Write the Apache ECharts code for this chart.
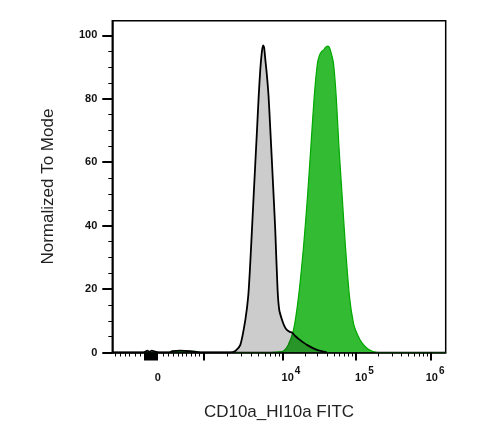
<!DOCTYPE html>
<html>
<head>
<meta charset="utf-8">
<script src="https://cdn.jsdelivr.net/npm/echarts@6/dist/echarts.min.js"></script>
<style>
	html, body { margin: 0; padding: 0; background: #fff; }
	#chart { width: 485px; height: 442px; }
</style>
</head>
<body>
<div id="chart"></div>
<script>
// x values are display positions on the biexponential axis (1 unit ~ 1 decade)
var grayX = [1.8, 2.2, 2.237, 2.26, 2.29, 2.32, 2.36, 2.434, 2.55, 2.59, 2.697, 2.83, 2.96, 3.355, 3.421, 3.487, 3.553, 3.592, 3.618, 3.662, 3.707, 3.73, 3.75, 3.77, 3.786, 3.8, 3.816, 3.836, 3.859, 3.882, 3.904, 3.928, 3.947, 3.978, 4.0, 4.036, 4.066, 4.1, 4.138, 4.167, 4.21, 4.276, 4.364, 4.496, 4.628];
var grayY = [0, 0, 0.3, 0.6, 0.2, 0.6, 0.3, 0, 0, 0.4, 0.6, 0.4, 0, 0, 0.5, 2.4, 10.3, 18, 28.3, 49.2, 70.3, 81.3, 89.2, 94.6, 96.8, 96.2, 92.4, 87.7, 80.8, 70.3, 59.8, 48.2, 38.7, 19.7, 13.4, 10.3, 8.4, 7.1, 6.5, 6.3, 5.2, 3.9, 2.4, 0.8, 0];

var greenX = [1.8, 2.55, 2.59, 2.7, 2.895, 2.96, 3.88, 3.974, 4.057, 4.118, 4.188, 4.254, 4.32, 4.372, 4.417, 4.461, 4.504, 4.533, 4.562, 4.586, 4.605, 4.636, 4.658, 4.671, 4.693, 4.714, 4.75, 4.786, 4.829, 4.872, 4.925, 4.978, 5.02, 5.066, 5.118, 5.175, 5.237, 5.307, 6.193];
var greenY = [0, 0, 0.4, 0.4, 0.4, 0, 0, 0.15, 0.5, 2.4, 7.1, 17.6, 33.4, 49.2, 65, 80.8, 91.3, 93.9, 95, 95.4, 96.1, 96.6, 96.3, 95.5, 93.6, 91.3, 80.8, 65, 49.2, 33.4, 17.6, 9.2, 6.2, 3.9, 2.2, 1, 0.3, 0, 0];

// axis ticks and labels
var xLabelPos = [2.4, 4.042, 5.011, 6.0];
var xLabels = ['0', '10^4', '10^5', '10^6'];
var xMajorTicks = [2.231, 2.257, 2.284, 2.31, 2.336, 2.363, 2.389, 3.0, 4.042, 5.011, 6.0];
var xMinorTicks = [1.836, 1.901, 1.967, 2.02, 2.099, 2.165, 2.468, 2.534, 2.6, 2.666, 2.718, 2.771, 2.837, 2.89, 2.942,
	3.31, 3.494, 3.626, 3.727, 3.811, 3.88, 3.941, 3.995,
	4.339, 4.497, 4.629, 4.721, 4.787, 4.853, 4.906, 4.958,
	5.309, 5.483, 5.606, 5.701, 5.78, 5.846, 5.903, 5.954];
var yLabels = [0, 20, 40, 60, 80, 100];
var yMinorTicks = [5, 10, 15, 25, 30, 35, 45, 50, 55, 65, 70, 75, 85, 90, 95];

function pairs(xs, ys) {
	return xs.map(function(x, i) { return [x, ys[i]]; });
}

function renderChart(ele) {
	var dom = document.getElementById(ele);
	var myChart = echarts.init(dom, null, { renderer: 'canvas' });
	var font = '"Liberation Sans", Arial, sans-serif';

	var option = {
		animation: false,
		backgroundColor: '#fff',
		textStyle: { fontFamily: font },
		grid: {
			left: 112.3,
			right: 39.3,
			top: 20.7,
			bottom: 89.5,
			show: true,
			borderColor: '#000',
			borderWidth: 1.5,
			backgroundColor: 'transparent'
		},
		xAxis: [{
			type: 'value',
			min: 1.8,
			max: 6.193,
			z: 5,
			name: 'CD10a_HI10a FITC',
			nameLocation: 'middle',
			nameGap: 51,
			nameTextStyle: { fontSize: 17, color: '#222', fontFamily: font },
			splitLine: { show: false },
			axisLine: { show: true, lineStyle: { color: '#000', width: 1.5 } },
			axisTick: {
				show: true,
				customValues: xMajorTicks,
				length: 8,
				lineStyle: { color: '#000', width: 2 }
			},
			axisLabel: {
				customValues: xLabelPos,
				margin: 17,
				formatter: function(val) {
					var i = 0;
					xLabelPos.forEach(function(p, k) {
						if (Math.abs(p - val) < Math.abs(xLabelPos[i] - val)) i = k;
					});
					var t = xLabels[i];
					if (t.indexOf('^') < 0) return '{z|' + t + '}';
					var parts = t.split('^');
					var pad = i === xLabels.length - 1 ? 'r' : 'p';
					return '{' + pad + '|' + parts[0] + '}{s|' + parts[1] + '}';
				},
				rich: {
					z: { fontSize: 11, fontWeight: 'bold', color: '#111', lineHeight: 14, padding: [3, 0, 0, 0], verticalAlign: 'bottom', fontFamily: font },
					p: { fontSize: 11, fontWeight: 'bold', color: '#111', lineHeight: 14, padding: [0, 0, 0, 17], verticalAlign: 'bottom', fontFamily: font },
					r: { fontSize: 11, fontWeight: 'bold', color: '#111', lineHeight: 14, padding: [0, 0, 0, 8], verticalAlign: 'bottom', fontFamily: font },
					s: { fontSize: 10, fontWeight: 'bold', color: '#111', lineHeight: 10, padding: [0, 0, 7, 1], verticalAlign: 'bottom', fontFamily: font }
				}
			}
		}, {
			// minor ticks only
			type: 'value',
			min: 1.8,
			max: 6.193,
			position: 'bottom',
			splitLine: { show: false },
			axisLine: { show: false },
			axisLabel: { show: false },
			axisTick: {
				show: true,
				customValues: xMinorTicks,
				length: 4,
				lineStyle: { color: '#000', width: 1 }
			}
		}],
		yAxis: [{
			type: 'value',
			min: 0,
			max: 104.6,
			name: 'Normalized To Mode',
			nameLocation: 'middle',
			nameGap: 55,
			nameTextStyle: { fontSize: 17, color: '#222', fontFamily: font },
			splitLine: { show: false },
			axisLine: { show: true, lineStyle: { color: '#000', width: 1.5 } },
			axisTick: {
				show: true,
				customValues: yLabels,
				length: 10,
				lineStyle: { color: '#000', width: 2 }
			},
			axisLabel: {
				customValues: yLabels,
				margin: 15,
				fontSize: 11,
				fontWeight: 'bold',
				color: '#111',
				fontFamily: font
			}
		}, {
			type: 'value',
			min: 0,
			max: 104.6,
			position: 'left',
			splitLine: { show: false },
			axisLine: { show: false },
			axisLabel: { show: false },
			axisTick: {
				show: true,
				customValues: yMinorTicks,
				length: 4,
				lineStyle: { color: '#000', width: 1 }
			}
		}],
		series: [{
			name: 'CD10a_HI10a FITC',
			type: 'line',
			smooth: 0.25,
			showSymbol: false,
			data: pairs(greenX, greenY),
			lineStyle: { color: '#00a800', width: 1.2 },
			areaStyle: { color: '#33bb33', opacity: 1 },
			z: 2
		}, {
			name: 'Control',
			type: 'line',
			smooth: 0.25,
			showSymbol: false,
			data: pairs(grayX, grayY),
			lineStyle: { color: '#000', width: 1.8 },
			areaStyle: { color: 'rgba(0,0,0,0.2)', opacity: 1 },
			z: 3
		}]
	};

	myChart.setOption(option);

	window.addEventListener('resize', function() {
		myChart.resize();
	});
}

renderChart('chart');
</script>
</body>
</html>
